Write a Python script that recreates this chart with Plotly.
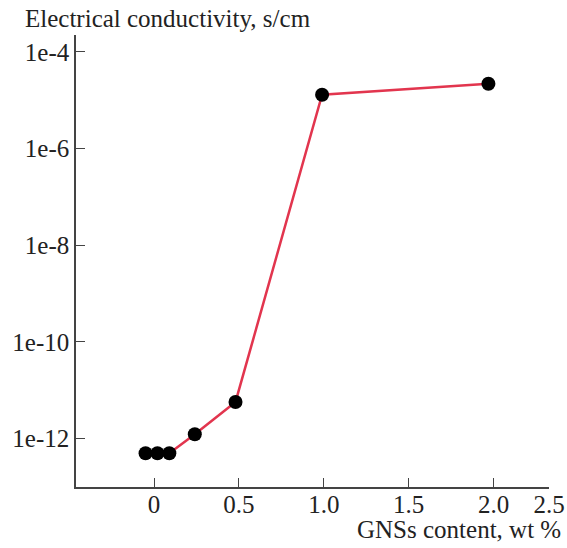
import plotly.graph_objects as go

gns_content = [-0.05, 0.02, 0.09, 0.24, 0.48, 0.99, 1.97]
conductivity = [5.0e-13, 5.0e-13, 5.0e-13, 1.23e-12, 5.75e-12, 1.3e-5, 2.2e-5]

x_tick_vals = [0, 0.5, 1.0, 1.5, 2.0, 2.327]
x_tick_text = ["0", "0.5", "1.0", "1.5", "2.0", "2.5"]
y_tick_vals = [1e-4, 1e-6, 1e-8, 1e-10, 1e-12]
y_tick_text = ["1e-4", "1e-6", "1e-8", "1e-10", "1e-12"]

FONT = "Liberation Serif"
AX = "#444444"
FS = 25

fig = go.Figure()
fig.add_trace(go.Scatter(
    x=gns_content, y=conductivity, mode="lines+markers",
    line=dict(color="#e2354e", width=2.5),
    marker=dict(color="black", size=14),
    showlegend=False, cliponaxis=False,
))

fig.update_layout(
    width=567, height=548,
    margin=dict(l=76, r=18, t=35, b=61, autoexpand=False),
    paper_bgcolor="white", plot_bgcolor="white",
    font=dict(family=FONT, size=FS, color="#222222"),
    xaxis=dict(
        range=[-0.46, 2.327], tickvals=x_tick_vals, ticktext=x_tick_text,
        showgrid=False, zeroline=False, showline=True, linecolor=AX, linewidth=1.5,
        ticks="inside", ticklen=9, tickcolor=AX, tickwidth=1.2, automargin=False,
        tickfont=dict(family=FONT, size=FS), ticklabelstandoff=-6,
    ),
    yaxis=dict(
        type="log", range=[-13, -3.65], tickvals=y_tick_vals, ticktext=y_tick_text,
        showgrid=False, zeroline=False, showline=True, linecolor=AX, linewidth=1.5,
        ticks="inside", ticklen=9, tickcolor=AX, tickwidth=1.2, automargin=False,
        tickfont=dict(family=FONT, size=FS),
    ),
    annotations=[
        dict(text="Electrical conductivity, s/cm", xref="paper", yref="paper",
             x=-0.112, y=1.0376, xanchor="left", yanchor="middle", showarrow=False,
             font=dict(family=FONT, size=FS)),
        dict(text="GNSs content, wt %", xref="paper", yref="paper",
             x=1.030, y=-0.094, xanchor="right", yanchor="middle", showarrow=False,
             font=dict(family=FONT, size=FS)),
    ],
)

fig.write_html("out.html")
